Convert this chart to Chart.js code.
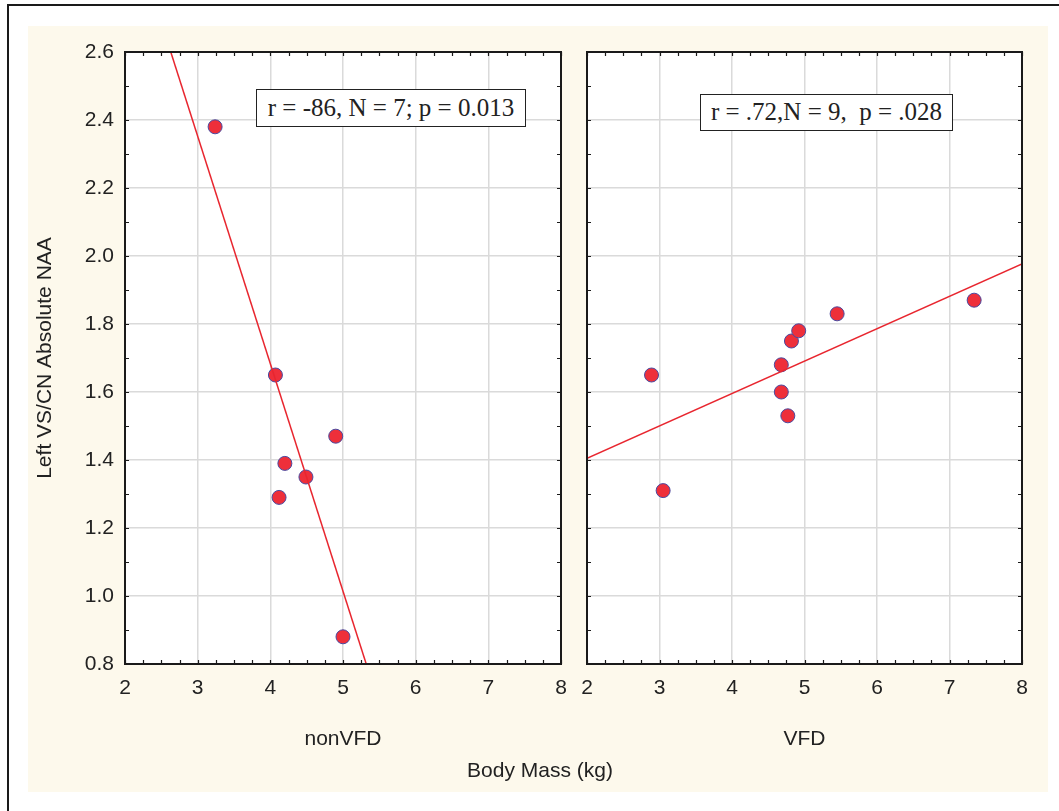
<!DOCTYPE html>
<html><head><meta charset="utf-8">
<script src="https://cdn.jsdelivr.net/npm/chart.js@4.4.1/dist/chart.umd.min.js"></script>
<style>
html,body{margin:0;padding:0;background:#fff;width:1059px;height:811px;overflow:hidden;position:relative;font-family:"Liberation Sans",Arial,sans-serif;color:#222}
#frame{position:absolute;left:7px;top:4px;width:2000px;height:2000px;border-left:2px solid #1a1a1a;border-top:2px solid #1a1a1a}
#panel{position:absolute;left:28px;top:26px;width:1020px;height:766px;background:#fdf9ec}
canvas{position:absolute}
#cL{left:25px;top:26px}
#cR{left:570px;top:26px}
.box{position:absolute;background:#fff;border:1.5px solid #222;font-family:"Liberation Serif","Times New Roman",serif;font-size:25px;white-space:pre;text-align:center;box-sizing:border-box;color:#222}
#xtitle{position:absolute;left:440px;width:200px;top:759px;text-align:center;font-size:21px;line-height:22px;white-space:nowrap}
</style>
</head><body>
<div id="frame"></div>
<div id="panel"></div>
<canvas id="cL" width="545" height="740"></canvas>
<canvas id="cR" width="478" height="740"></canvas>
<div class="box" style="left:256px;top:89px;width:270px;height:38px;line-height:35px">r = -86, N = 7; p = 0.013</div>
<div class="box" style="left:700px;top:94px;width:253px;height:37px;line-height:34px">r = .72,N = 9,  p = .028</div>
<div id="xtitle">Body Mass (kg)</div>
<script>
// ---- data ----
const nonVfdMass = [3.24, 4.07, 4.12, 4.20, 4.49, 4.90, 5.00];
const nonVfdNaa  = [2.38, 1.65, 1.29, 1.39, 1.35, 1.47, 0.88];
const vfdMass = [2.89, 3.05, 4.68, 4.68, 4.77, 4.82, 4.92, 5.45, 7.34];
const vfdNaa  = [1.65, 1.31, 1.68, 1.60, 1.53, 1.75, 1.78, 1.83, 1.87];
const nonVfdFitMass = [2.63, 5.32];
const nonVfdFitNaa  = [2.60, 0.80];
const vfdFitMass = [2, 8];
const vfdFitNaa  = [1.405, 1.977];
const xTickLabels = ['2','3','4','5','6','7','8'];
const yTickLabels = ['0.8','1.0','1.2','1.4','1.6','1.8','2.0','2.2','2.4','2.6'];
const groupNames = ['nonVFD','VFD'];
const yTitle = 'Left VS/CN Absolute NAA';

const X_MIN = 2, X_MAX = 8, Y_MIN = 0.8, Y_MAX = 2.6;
const FONT = '"Liberation Sans", Arial, sans-serif';
const FS = 21;

const framePlugin = {
  id: 'frame',
  beforeDraw(chart) {
    const {ctx, chartArea: a} = chart;
    ctx.save();
    ctx.fillStyle = '#ffffff';
    ctx.fillRect(a.left, a.top, a.width, a.height);
    ctx.restore();
  },
  afterDraw(chart) {
    const {ctx, chartArea: a, scales: {x, y}} = chart;
    ctx.save();
    ctx.strokeStyle = '#1a1a1a';
    ctx.lineWidth = 1.2;
    const L = 4;
    ctx.beginPath();
    for (let i = 0; i <= (X_MAX - X_MIN) * 4; i++) {
      const px = Math.round(x.getPixelForValue(X_MIN + i * 0.25)) + 0.5;
      ctx.moveTo(px, a.top); ctx.lineTo(px, a.top + L);
      ctx.moveTo(px, a.bottom); ctx.lineTo(px, a.bottom - L);
    }
    for (let i = 0; i <= 18; i++) {
      const py = Math.round(y.getPixelForValue(Y_MIN + i * 0.1)) + 0.5;
      ctx.moveTo(a.left, py); ctx.lineTo(a.left + L, py);
      ctx.moveTo(a.right, py); ctx.lineTo(a.right - L, py);
    }
    ctx.stroke();
    ctx.lineWidth = 2;
    ctx.strokeRect(Math.round(a.left), Math.round(a.top), Math.round(a.width), Math.round(a.height));
    ctx.restore();
  }
};

function makeChart(id, mass, naa, fitMass, fitNaa, groupName, isLeft) {
  const pts = mass.map((m, i) => ({x: m, y: naa[i]}));
  const fit = fitMass.map((m, i) => ({x: m, y: fitNaa[i]}));
  return new Chart(document.getElementById(id), {
    type: 'scatter',
    data: {
      datasets: [
        {data: fit, showLine: true, borderColor: '#e8262f', borderWidth: 1.5, pointRadius: 0, pointHoverRadius: 0, fill: false},
        {data: pts, pointRadius: 7, pointBackgroundColor: '#ee2f3a', pointBorderColor: '#4a4aa0', pointBorderWidth: 1}
      ]
    },
    options: {
      responsive: false,
      animation: false,
      devicePixelRatio: 1,
      events: [],
      layout: {padding: isLeft ? {top: 26, right: 9, left: 0, bottom: 0} : {top: 26, right: 26, left: 17, bottom: 0}},
      plugins: {legend: {display: false}, tooltip: {enabled: false}},
      scales: {
        x: {
          type: 'linear', min: X_MIN, max: X_MAX,
          afterFit: s => { s.height = 102; s.paddingLeft = 0; s.paddingRight = 0; },
          grid: {color: '#dadada', lineWidth: 1.5, drawTicks: false},
          border: {display: false},
          ticks: {stepSize: 1, padding: 12, color: '#222', font: {family: FONT, size: FS},
                  callback: (v, i) => xTickLabels[i]},
          title: {display: true, text: groupName, color: '#222', font: {family: FONT, size: FS}, padding: {top: 0, bottom: 14}}
        },
        y: {
          type: 'linear', min: Y_MIN, max: Y_MAX,
          afterFit: s => { s.width = isLeft ? 100 : 0; s.paddingTop = 0; s.paddingBottom = 0; },
          grid: {color: '#dadada', lineWidth: 1.5, drawTicks: false},
          border: {display: false},
          ticks: {display: isLeft, stepSize: 0.2, padding: 11, color: '#222', font: {family: FONT, size: FS},
                  callback: (v, i) => yTickLabels[i]},
          title: {display: isLeft, text: yTitle, color: '#222', font: {family: FONT, size: FS}, padding: {top: 8, bottom: 0}}
        }
      }
    },
    plugins: [framePlugin]
  });
}

makeChart('cL', nonVfdMass, nonVfdNaa, nonVfdFitMass, nonVfdFitNaa, groupNames[0], true);
makeChart('cR', vfdMass, vfdNaa, vfdFitMass, vfdFitNaa, groupNames[1], false);
</script>
</body></html>
